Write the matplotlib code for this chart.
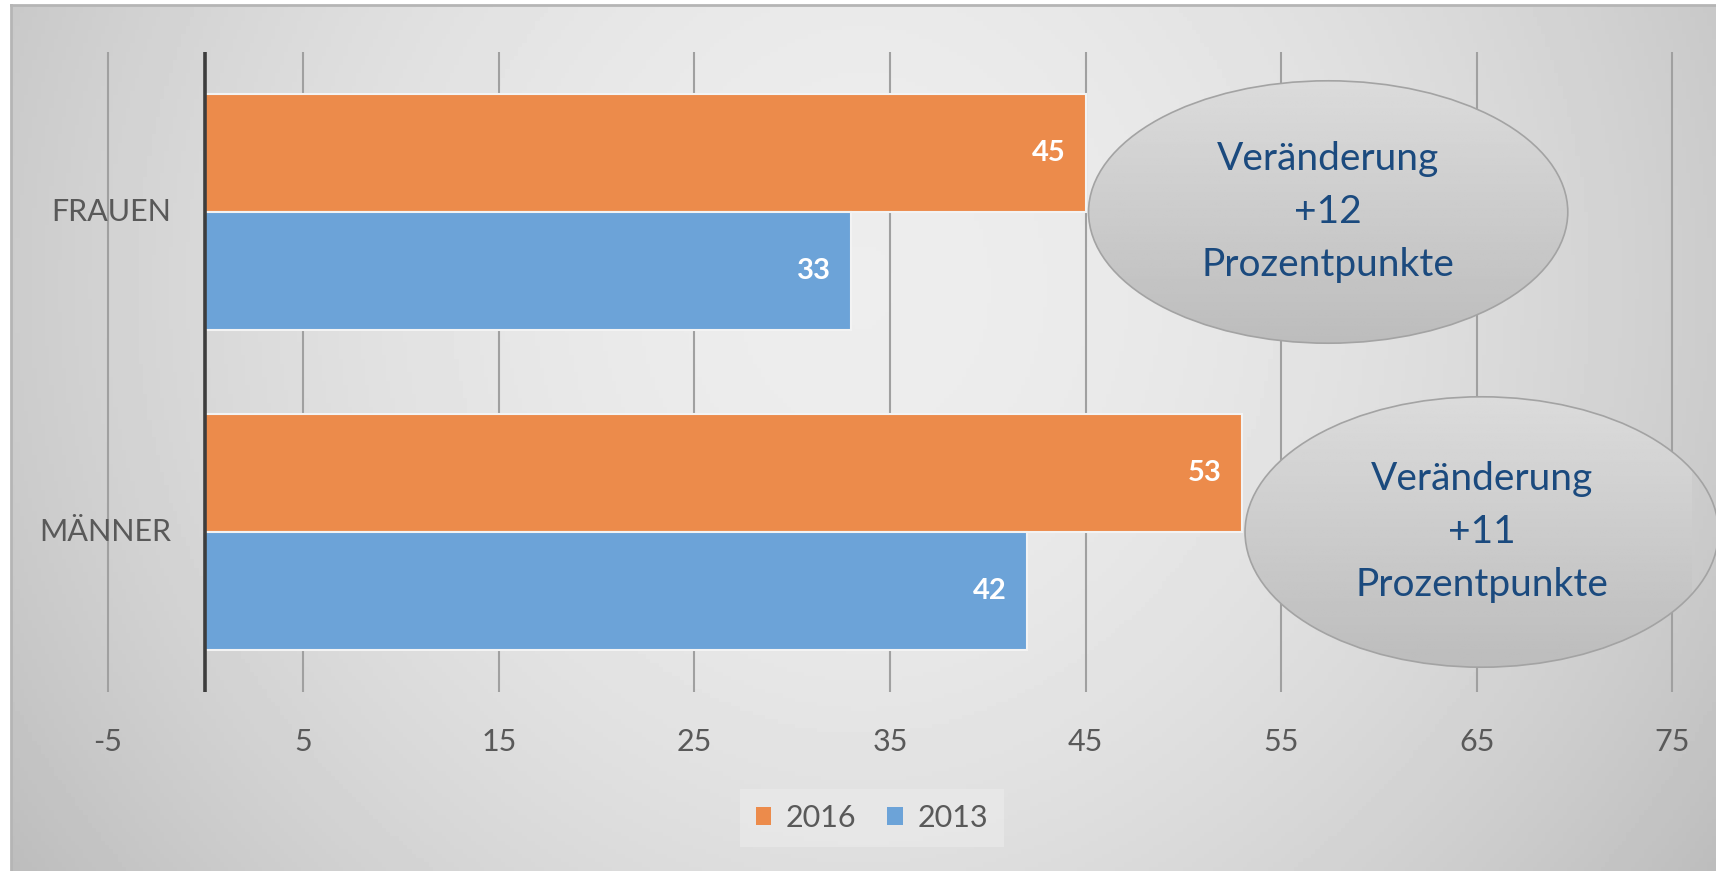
import numpy as np
import matplotlib
matplotlib.use("Agg")
import matplotlib.pyplot as plt
from matplotlib.patches import Ellipse, Patch
from matplotlib import transforms

plt.rcParams["font.family"] = ["Lato", "DejaVu Sans"]
plt.rcParams["axes.unicode_minus"] = False

# ---------------------------------------------------------------- data
categories = ["FRAUEN", "MÄNNER"]
years = ["2016", "2013"]
values_2016 = [45, 53]
values_2013 = [33, 42]
changes = ["+12", "+11"]
xticks = [-5, 5, 15, 25, 35, 45, 55, 65, 75]

ORANGE = "#EC8B4B"
BLUE = "#6CA3D8"
TXT = "#595959"
NAVY = "#1B4A7E"

# ---------------------------------------------------------------- figure
fig = plt.figure(figsize=(17.16, 8.71), dpi=100, facecolor="white")

# soft grey gradient backdrop (chart area of the screenshot)
bg = fig.add_axes([11 / 1716, 0, 1705 / 1716, 866 / 871])
u = np.linspace(-1, 1, 400)[None, :]
v = np.linspace(-1, 1, 200)[:, None]
shade = 0.93 - 0.13 * np.abs(u) ** 1.8 - 0.06 * ((v + 0.35) / 1.35) ** 2
bg.imshow(shade, cmap="gray", vmin=0, vmax=1, aspect="auto",
          extent=[0, 1, 0, 1], origin="upper")
bg.set_xlim(0, 1); bg.set_ylim(0, 1)
bg.set_xticks([]); bg.set_yticks([])
for side in ("right", "bottom"):
    bg.spines[side].set_visible(False)
for side in ("top", "left"):
    bg.spines[side].set_color("#b5b5b5")
    bg.spines[side].set_linewidth(2)

ax = fig.add_axes([88 / 1716, 1 - 692 / 871, 1604 / 1716, 640 / 871])
ax.patch.set_alpha(0)

y = np.arange(len(categories))
h = 0.37
ax.barh(y - h / 2, values_2016, height=h, color=ORANGE, edgecolor="#f3f3f3",
        linewidth=1.5, label=years[0], zorder=2)
ax.barh(y + h / 2, values_2013, height=h, color=BLUE, edgecolor="#f3f3f3",
        linewidth=1.5, label=years[1], zorder=2)

# value labels inside bar ends
for yy, v16, v13 in zip(y, values_2016, values_2013):
    for val, yc in ((v16, yy - h / 2), (v13, yy + h / 2)):
        ax.annotate(str(val), (val, yc), xytext=(-20, 0), textcoords="offset pixels",
                    ha="right", va="center", color="white", fontsize=21,
                    fontweight="bold", zorder=4)

ax.set_xlim(-6, 76)
ax.set_ylim(1.5, -0.5)
ax.set_xticks(xticks)
ax.set_yticks([])
ax.tick_params(axis="x", length=0, pad=26, labelsize=22, labelcolor=TXT)
ax.grid(axis="x", color="#a0a0a0", linewidth=1.5)
ax.set_axisbelow(True)
for s in ax.spines.values():
    s.set_visible(False)
ax.axvline(0, color="#3d3d3d", linewidth=2.6, zorder=3)

# category labels, right-aligned a little left of the value axis
lab_tr = transforms.offset_copy(ax.transData, fig=fig, x=-34, y=0, units="dots")
for yy, cat in zip(y, categories):
    ax.text(0, yy, cat, transform=lab_tr, ha="right", va="center",
            fontsize=22, color=TXT)

# change bubbles
ell_w = [24.5, 24.2]
ell_h = [0.82, 0.845]
for yy, v16, ch, w, eh in zip(y, values_2016, changes, ell_w, ell_h):
    cx = v16 + 0.15 + w / 2
    ell = Ellipse((cx, yy), w, eh, facecolor="none", edgecolor="#a3a3a3",
                  linewidth=1.2, zorder=5, clip_on=False)
    ax.add_patch(ell)
    grad = np.linspace(0.86, 0.74, 100)[:, None] * np.ones((1, 10))
    im = ax.imshow(grad, cmap="gray", vmin=0, vmax=1, aspect="auto",
                   extent=[cx - w / 2, cx + w / 2, yy + eh / 2, yy - eh / 2],
                   zorder=4.5)
    im.set_clip_path(ell)
    ax.text(cx, yy, f"Veränderung\n{ch}\nProzentpunkte", ha="center",
            va="center", multialignment="center", fontsize=28, color=NAVY,
            linespacing=1.6, zorder=6)

ax.set_xlim(-6, 76)
ax.set_ylim(1.5, -0.5)

handles = [Patch(facecolor=ORANGE, label=years[0]),
           Patch(facecolor=BLUE, label=years[1])]
leg = fig.legend(handles=handles, loc="center", ncol=2,
                 bbox_to_anchor=(872 / 1716, 1 - 818 / 871), fontsize=22,
                 frameon=True, fancybox=False, handlelength=0.5,
                 handleheight=0.5, handletextpad=0.5, columnspacing=1.0,
                 borderpad=0.5)
leg.get_frame().set_facecolor("#e9e9e9")
leg.get_frame().set_edgecolor("none")
for t in leg.get_texts():
    t.set_color(TXT)

fig.savefig("out.png", dpi=100, facecolor="white")
